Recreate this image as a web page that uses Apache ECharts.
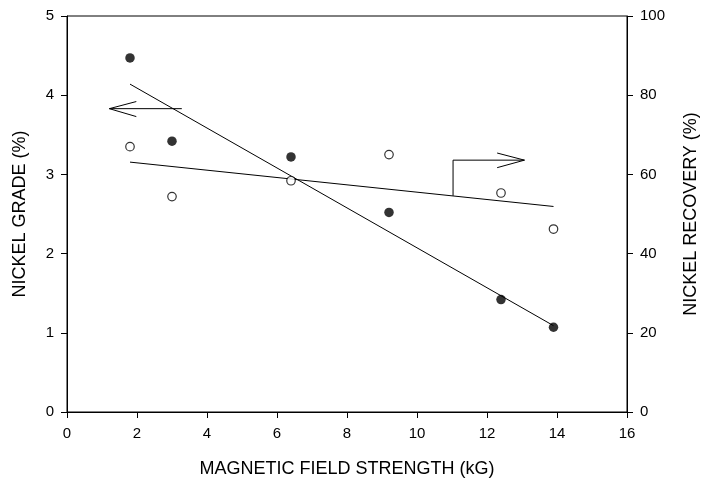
<!DOCTYPE html>
<html>
<head>
<meta charset="utf-8">
<script src="https://cdn.jsdelivr.net/npm/echarts@6/dist/echarts.min.js"></script>
<style>
  html, body { margin: 0; padding: 0; background: #fff; }
  #chart { width: 708px; height: 484px; }
</style>
</head>
<body>
<div id="chart"></div>
<script>
// Magnetic field strength (kG) for each separation test
const fieldStrength = [1.8, 3.0, 6.4, 9.2, 12.4, 13.9];
// Nickel grade of the magnetic concentrate (%), left axis
const nickelGrade = [4.47, 3.42, 3.22, 2.52, 1.42, 1.07];
// Nickel recovery (%), right axis
const nickelRecovery = [67.0, 54.4, 58.4, 65.0, 55.3, 46.2];

// Fitted trend lines: [field, value] end points
const gradeFit = [[1.8, 4.14], [13.9, 1.09]];
const recoveryFit = [[1.8, 63.1], [13.9, 51.9]];

// Pointer arrows telling which axis each trend belongs to
const gradeArrowShaft = [[3.28, 3.83], [1.21, 3.83]];
const gradeArrowHead = [[1.98, 3.92], [1.21, 3.83], [1.98, 3.73]];
const recoveryArrowShaft = [[11.03, 54.6], [11.03, 63.6], [13.07, 63.6]];
const recoveryArrowHead = [[12.29, 65.4], [13.07, 63.6], [12.29, 61.7]];

// Axis ranges and tick steps
const xRange = [0, 16], xStep = 2;
const gradeRange = [0, 5], gradeStep = 1;
const recoveryRange = [0, 100], recoveryStep = 20;

const FONT = 'Arial, "Liberation Sans", sans-serif';
const pairs = (xs, ys) => xs.map((x, i) => [x, ys[i]]);

const axisLine = { show: true, lineStyle: { color: '#000', width: 1 } };
const axisTick = { show: true, inside: false, length: 6, lineStyle: { color: '#000', width: 1 } };
const tickLabel = { color: '#000', fontSize: 15, fontFamily: FONT };
const nameStyle = { color: '#000', fontSize: 18, fontFamily: FONT };

function polyline(data, yAxisIndex) {
  return {
    type: 'line', data, yAxisIndex, symbol: 'none', silent: true,
    lineStyle: { color: '#000', width: 1 }, z: 3, animation: false
  };
}

const chart = echarts.init(document.getElementById('chart'), null, { renderer: 'canvas' });
chart.setOption({
  animation: false,
  backgroundColor: '#fff',
  grid: { left: 67, right: 74, top: 16, bottom: 72, show: true, borderColor: '#000', borderWidth: 1 },
  xAxis: [{
    type: 'value', min: xRange[0], max: xRange[1], interval: xStep,
    name: 'MAGNETIC FIELD STRENGTH (kG)', nameLocation: 'middle', nameGap: 48,
    nameTextStyle: nameStyle,
    axisLine, axisTick, axisLabel: Object.assign({ margin: 14 }, tickLabel),
    splitLine: { show: false }
  }],
  yAxis: [{
    type: 'value', position: 'left', min: gradeRange[0], max: gradeRange[1], interval: gradeStep,
    name: 'NICKEL GRADE (%)', nameLocation: 'middle', nameGap: 38,
    nameTextStyle: nameStyle,
    axisLine, axisTick, axisLabel: Object.assign({ margin: 13 }, tickLabel),
    splitLine: { show: false }
  }, {
    type: 'value', position: 'right', min: recoveryRange[0], max: recoveryRange[1], interval: recoveryStep,
    name: 'NICKEL RECOVERY (%)', nameLocation: 'middle', nameGap: 55,
    nameTextStyle: nameStyle,
    axisLine, axisTick, axisLabel: Object.assign({ margin: 13 }, tickLabel),
    splitLine: { show: false }
  }],
  series: [
    polyline(gradeFit, 0),
    polyline(recoveryFit, 1),
    polyline(gradeArrowShaft, 0),
    polyline(gradeArrowHead, 0),
    polyline(recoveryArrowShaft, 1),
    polyline(recoveryArrowHead, 1),
    {
      type: 'scatter', yAxisIndex: 0, data: pairs(fieldStrength, nickelGrade),
      symbol: 'circle', symbolSize: 9.5,
      itemStyle: { color: '#000' }, z: 4
    },
    {
      type: 'scatter', yAxisIndex: 1, data: pairs(fieldStrength, nickelRecovery),
      symbol: 'circle', symbolSize: 8.5,
      itemStyle: { color: '#fff', borderColor: '#000', borderWidth: 1.2 }, z: 4
    }
  ]
});
</script>
</body>
</html>
